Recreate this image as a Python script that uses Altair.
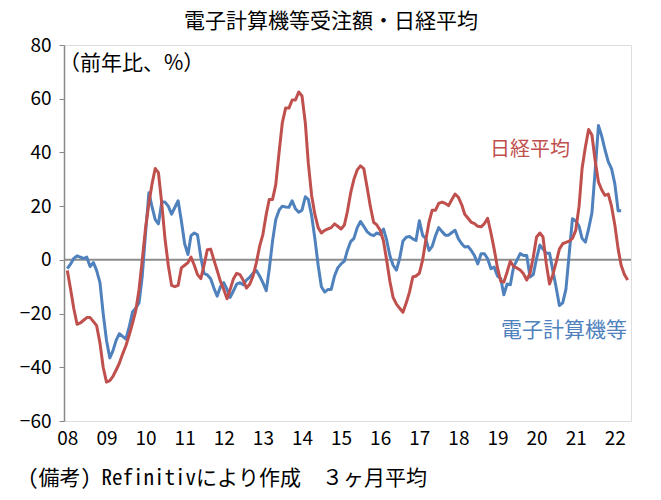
import altair as alt
import pandas as pd

# 3-month average, year-on-year % change, monthly from Jan 2008
nikkei = [
    -4, -11, -18, -24, -23.5, -22.5, -21.5, -21.5, -23, -24.5, -31, -40,      # 2008
    -45.5, -45, -43.5, -41, -38.5, -35, -32, -28, -23.6, -19, -11, 0,         # 2009
    12, 21, 28, 34, 32.5, 21, 8, -2, -9.5, -10, -9.5, -3,                     # 2010
    -2, -1, 1, -2, -5.5, -7, -2, 3.8, 4, 0, -4, -8,                            # 2011
    -11, -14.5, -11, -7, -5, -5.5, -7.6, -10.5, -9, -6, -1, 5,                # 2012
    9.5, 17, 22.5, 22.5, 28, 40, 51, 56.5, 56.5, 59.5, 59.5, 62.5,            # 2013
    61, 51, 36, 24, 17, 12, 10, 11, 11.5, 12, 13.4, 12.5,                     # 2014
    11.5, 13, 18, 25, 30, 33.5, 35, 34, 27, 20, 14, 13,                       # 2015
    11, 7, 0, -8, -14, -16.5, -18, -19.5, -16, -12, -6.4, -6,                 # 2016
    -5, 0, 7, 14, 18.5, 18.5, 21, 21.5, 21, 20.2, 22.5, 24.5,                 # 2017
    23.3, 20.5, 17, 15.5, 14, 13.5, 12.5, 12.3, 13.5, 15.5, 10, 4,            # 2018
    -3, -8, -8.3, -4.5, -0.5, -2.5, -3, -3.8, -5.2, -7.5, -5, 1,              # 2019
    8.5, 10, 8.5, -1.5, -9, -5.5, -1, 4, 6, 6.5, 7, 8,                        # 2020
    11, 20, 34, 42, 48.5, 46.5, 37, 29, 26, 24, 24.5, 20,                     # 2021
    13, 4, -2, -5.5, -7.5,                                                     # 2022
]

computers = [
    -3.3, -1.5, 0.5, 1.5, 1, 0.5, 1, -2.5, -1, -4, -8.5, -20,                 # 2008
    -30, -36.5, -34, -30, -27.5, -28.5, -29.5, -25, -19.4, -18, -16, -6,      # 2009
    10, 25, 20, 15, 13.4, 21.5, 21.5, 20, 17, 19.5, 22, 14.6,                 # 2010
    6, 2, 9, 10, 9.3, 1, -5, -5.6, -7, -10.5, -13.5, -10,                     # 2011
    -8.5, -11, -14, -11.5, -9, -8.5, -9.3, -7.5, -6.4, -5, -4, -6,            # 2012
    -8.5, -11.5, -3.5, 7, 15, 18.5, 20, 19.7, 19.6, 22, 19, 17.7,             # 2013
    18.5, 23.5, 22.5, 16.5, 8, -2, -10, -12, -11, -11, -6, -3,                # 2014
    -1.5, -0.5, 3.5, 6.8, 8, 12, 14.3, 12.5, 10.5, 9.5, 9, 10,                # 2015
    9.5, 11.5, 7.5, 1.5, -2, -3.8, 0.5, 7, 8.4, 8.7, 7.8, 7.2,                # 2016
    14.6, 9.1, 8, 3.5, 5, 9, 12, 10.5, 9.2, 9.2, 10.2, 11,                    # 2017
    7.8, 6, 4.8, 5, 3.5, 1.5, -1.5, 2.3, 2.3, 0.4, -3.3, -2.7,                # 2018
    -6, -7, -13, -9, -9.3, -2.5, -0.2, 2.3, 1.6, 1.6, -6.4, -5.5,             # 2019
    0.5, 5.5, 4, 2.5, 2.5, -4, -10.1, -17, -16, -11, 2.3, 15.3,               # 2020
    14.5, 12.5, 8, 6.6, 11.5, 17.5, 33, 50, 46, 41, 36.5, 34,                 # 2021
    28.3, 18.3, 18.3,                                                          # 2022
]

series_names = ["電子計算機等", "日経平均"]
series_colors = ["#4f81bd", "#c0504d"]

df = pd.concat([
    pd.DataFrame({
        "date": pd.date_range("2008-01-01", periods=len(computers), freq="MS").strftime("%Y-%m-%d"),
        "value": computers,
        "series": series_names[0],
    }),
    pd.DataFrame({
        "date": pd.date_range("2008-01-01", periods=len(nikkei), freq="MS").strftime("%Y-%m-%d"),
        "value": nikkei,
        "series": series_names[1],
    }),
])

FONT = "Noto Sans CJK JP"
MONO = "Noto Sans Mono CJK JP, Noto Sans CJK JP"

x_enc = alt.X(
    "date:T",
    scale=alt.Scale(domain=[alt.DateTime(year=2007, month=12, date=1),
                            alt.DateTime(year=2022, month=6, date=1)]),
    axis=alt.Axis(format="%y", tickCount={"interval": "year", "step": 1},
                  grid=False, ticks=False, domain=False, labelFontSize=19,
                  labelColor="#000000", labelPadding=8, labelFont=FONT,
                  labelOverlap=False, title=None),
)
y_enc = alt.Y(
    "value:Q",
    scale=alt.Scale(domain=[-60, 80], nice=False, zero=False),
    axis=alt.Axis(values=list(range(-60, 81, 20)), grid=False, tickSize=5,
                  tickColor="#888888", domainColor="#888888", domainWidth=1.5,
                  labelFontSize=19, labelColor="#000000", labelPadding=8,
                  labelFont=FONT, title=None),
)

lines = alt.Chart(df).mark_line(strokeWidth=3, strokeJoin="round").encode(
    x=x_enc,
    y=y_enc,
    color=alt.Color("series:N", scale=alt.Scale(domain=series_names, range=series_colors),
                    legend=None),
    order=alt.Order("series:N"),
)

zero = alt.Chart(pd.DataFrame({"v": [0]})).mark_rule(color="#8c8c8c", strokeWidth=2).encode(
    y=alt.Y("v:Q", scale=alt.Scale(domain=[-60, 80], nice=False))
)

def label(text, x, y, color, size=20, align="left", font=FONT):
    return alt.Chart(pd.DataFrame({"t": [text]})).mark_text(
        align=align, baseline="middle", fontSize=size, color=color, font=font
    ).encode(text="t:N", x=alt.value(x), y=alt.value(y))

title = label("電子計算機等受注額・日経平均", 267, -23, "#000000", size=21, align="center")
unit = label("（前年比、%）", -5, 19, "#000000", size=21)
nikkei_lbl = label("日経平均", 426, 105, series_colors[1], size=20)
comp_lbl = label("電子計算機等", 437, 286, series_colors[0], size=21)
note = label("(備考) Refinitivにより作成　３ヶ月平均", -36, 58 + 376, "#000000", size=21, font=MONO)

chart = alt.layer(zero, lines, title, unit, nikkei_lbl, comp_lbl, note).properties(
    width=567,
    height=376,
    autosize=alt.AutoSizeParams(type="none"),
    padding={"left": 64, "top": 45, "right": 30, "bottom": 79},
    background="#ffffff",
).configure_view(
    stroke="#595959", strokeWidth=1.5
).configure(font=FONT)

chart.save("out.html", embed_options={"renderer": "svg", "actions": False})
